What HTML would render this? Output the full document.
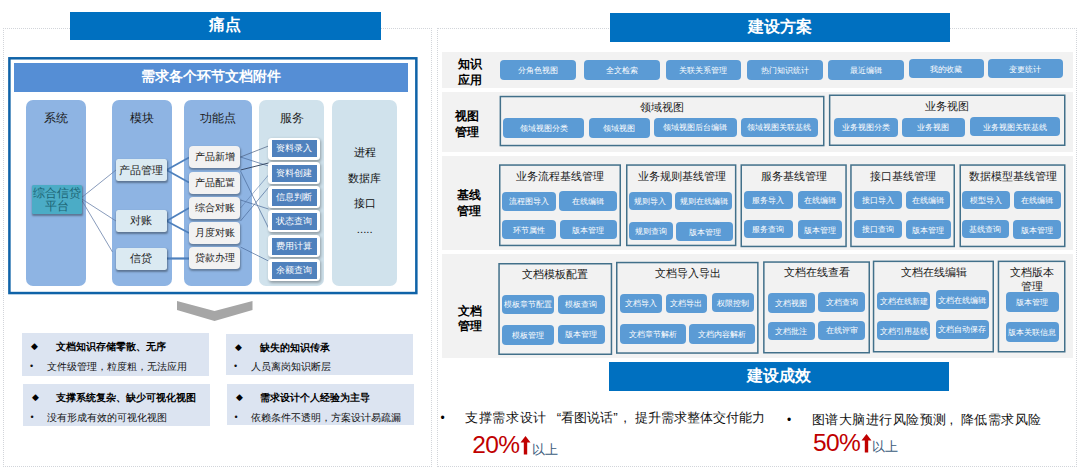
<!DOCTYPE html>
<html><head><meta charset="utf-8"><title>diagram</title><style>
html,body{margin:0;padding:0;background:#fff;overflow:hidden;}
body{width:1080px;height:470px;position:relative;overflow:hidden;font-family:"Liberation Sans",sans-serif;}
.a{position:absolute;box-sizing:border-box;}
.dot{border:1px dotted #d2d5da;}
.hdr{background:#0070c0;color:#fff;font-weight:bold;font-size:16px;display:flex;align-items:center;justify-content:center;}
.bigbox{border:3px solid #1a6cb4;background:#fff;}
.ihdr{background:#558ed5;color:#fff;font-weight:bold;font-size:13.5px;display:flex;align-items:center;justify-content:center;}
.col{border-radius:7px;text-align:center;}
.c1{background:#8eb4e3;}
.c2{background:#d0e2ec;}
.ct{position:absolute;left:0;right:0;top:10px;font-size:12.3px;line-height:16px;color:#1a1a1a;}
.sysbox{background:#4bacc6;color:#1d6575;font-size:11.6px;line-height:13.6px;text-align:center;display:flex;align-items:center;justify-content:center;box-shadow:0.5px 1.5px 2px rgba(0,0,0,.35);border-radius:1.5px;}
.mod{background:#dbeaf2;color:#222;font-size:11.3px;display:flex;align-items:center;justify-content:center;border-radius:2.5px;box-shadow:0.5px 1.5px 2px rgba(0,0,0,.35);}
.fn{background:#f2f2f2;color:#222;font-size:10.3px;display:flex;align-items:center;justify-content:center;border-radius:4px;box-shadow:0.5px 1.5px 2px rgba(0,0,0,.3);}
.svo{background:#fff;border-radius:3.5px;box-shadow:1px 1.5px 3px rgba(0,0,0,.3);}
.svi{background:#4f81bd;color:#fff;font-size:9px;display:flex;align-items:center;justify-content:center;}
.c5t{font-size:11.4px;color:#111;display:flex;align-items:center;justify-content:center;}
.pb{background:#dce4f1;}
.pt{position:absolute;left:0;top:6px;font-weight:bold;font-size:10.1px;line-height:15px;color:#000;white-space:nowrap;padding-left:33.8px;}
.dm{position:absolute;left:9px;top:0;font-size:9px;font-weight:normal;}
.ps{position:absolute;left:0;top:25.5px;font-size:10.1px;line-height:15px;color:#111;white-space:nowrap;padding-left:24.5px;}
.bl{position:absolute;left:8px;top:0;font-size:9px;}
.row{background:#f2f2f2;}
.rl{font-weight:bold;font-size:12px;line-height:15.2px;color:#000;text-align:center;display:flex;align-items:center;justify-content:center;}
.btn{background:#5b9bd5;color:#fff;font-size:7.8px;border-radius:4px;display:flex;align-items:center;justify-content:center;white-space:nowrap;padding-top:1px;}
.grp{border:1.4px solid #2c6a8e;}
.gt{font-size:11px;line-height:13.9px;color:#1a1a1a;text-align:center;display:flex;align-items:center;justify-content:center;white-space:nowrap;}
.res{font-size:13.3px;line-height:20px;color:#111;white-space:nowrap;}
.q1{display:inline-block;width:14px;text-align:right;}.q2{display:inline-block;width:7px;text-align:left;}.cm{display:inline-block;width:14.4px;text-align:left;padding-left:3px;box-sizing:border-box;}
.bul{font-size:12px;line-height:20px;color:#000;text-align:center;}
.pct{color:#c00000;font-size:24.5px;line-height:24px;white-space:nowrap;letter-spacing:-0.6px;}
.ys{color:#3b5c7c;font-size:13.2px;line-height:18px;white-space:nowrap;}
</style></head><body>
<div class="a dot" style="left:3.0px;top:28.0px;width:429.0px;height:439.0px;"></div>
<div class="a dot" style="left:437.0px;top:28.0px;width:640.0px;height:439.0px;"></div>
<div class="a hdr" style="left:69.5px;top:11.5px;width:311.0px;height:28.0px;">痛点</div>
<div class="a hdr" style="left:610.0px;top:12.5px;width:340.0px;height:29.0px;">建设方案</div>
<div class="a hdr" style="left:609.0px;top:362.3px;width:339.8px;height:28.7px;">建设成效</div>
<svg class="a" style="left:0;top:0" width="440" height="300" viewBox="0 0 440 300"><rect x="9.4" y="58.3" width="406.95" height="234.75" fill="#fff" stroke="#0f63a8" stroke-width="2.5"/></svg>
<div class="a ihdr" style="left:14.0px;top:63.0px;width:394.0px;height:28.6px;">需求各个环节文档附件</div>
<div class="a col c1" style="left:26.0px;top:100.0px;width:59.8px;height:186.0px;"><span class="ct">系统</span></div>
<div class="a col c1" style="left:111.5px;top:100.0px;width:60.5px;height:186.0px;"><span class="ct">模块</span></div>
<div class="a col c1" style="left:184.0px;top:100.0px;width:68.0px;height:186.0px;"><span class="ct">功能点</span></div>
<div class="a col c2" style="left:259.0px;top:100.0px;width:65.0px;height:186.0px;"><span class="ct">服务</span></div>
<div class="a col c2" style="left:332.2px;top:100.0px;width:65.1px;height:186.0px;"></div>
<svg class="a" style="left:0;top:0" width="440" height="300" viewBox="0 0 440 300"><line x1="81" y1="198" x2="116" y2="170" stroke="#6a82aa" stroke-width="0.8"/><line x1="81" y1="198.5" x2="116" y2="221" stroke="#6a82aa" stroke-width="0.8"/><line x1="81" y1="199" x2="112.5" y2="252" stroke="#6a82aa" stroke-width="0.8"/><line x1="166.5" y1="170" x2="189" y2="157.5" stroke="#4f81bd" stroke-width="1.8"/><line x1="166.5" y1="170" x2="189" y2="182.5" stroke="#4f81bd" stroke-width="1.8"/><line x1="166.5" y1="221" x2="189" y2="208" stroke="#4f81bd" stroke-width="1.8"/><line x1="166.5" y1="221" x2="189" y2="233" stroke="#4f81bd" stroke-width="1.8"/><line x1="166.5" y1="258.5" x2="189" y2="258.5" stroke="#4f81bd" stroke-width="2.2"/><line x1="240.5" y1="157" x2="268.5" y2="146" stroke="#4b5f80" stroke-width="0.7"/><line x1="240.5" y1="157" x2="268.5" y2="166" stroke="#4b6a99" stroke-width="0.7"/><line x1="240.5" y1="170" x2="268.5" y2="163" stroke="#2f3f5a" stroke-width="0.9"/><line x1="240.5" y1="171" x2="268.5" y2="228" stroke="#4b6a99" stroke-width="0.7"/><line x1="240.5" y1="200" x2="268.5" y2="209" stroke="#4b6a99" stroke-width="0.7"/><line x1="240.5" y1="221" x2="268.5" y2="187.5" stroke="#4b6a99" stroke-width="0.7"/><line x1="240.5" y1="208" x2="268.5" y2="175" stroke="#5b7aa9" stroke-width="0.6"/><line x1="240.5" y1="247" x2="268.5" y2="261" stroke="#4b6a99" stroke-width="0.7"/></svg>
<div class="a sysbox" style="left:31.5px;top:185.0px;width:50.5px;height:28.5px;">综合信贷<br>平台</div>
<div class="a mod" style="left:116.0px;top:159.0px;width:50.5px;height:22.0px;">产品管理</div>
<div class="a mod" style="left:116.0px;top:210.0px;width:50.5px;height:21.5px;">对账</div>
<div class="a mod" style="left:116.0px;top:248.0px;width:50.5px;height:21.7px;">信贷</div>
<div class="a fn" style="left:189.2px;top:146.0px;width:51.3px;height:22.0px;">产品新增</div>
<div class="a fn" style="left:189.2px;top:171.7px;width:51.3px;height:22.0px;">产品配置</div>
<div class="a fn" style="left:189.2px;top:197.0px;width:51.3px;height:22.0px;">综合对账</div>
<div class="a fn" style="left:189.2px;top:222.2px;width:51.3px;height:22.0px;">月度对账</div>
<div class="a fn" style="left:189.2px;top:247.4px;width:51.3px;height:22.0px;">贷款办理</div>
<div class="a svo" style="left:268.2px;top:137.7px;width:51.5px;height:22.0px;"></div>
<div class="a svi" style="left:271.5px;top:140.2px;width:45.2px;height:17.0px;">资料录入</div>
<div class="a svo" style="left:268.2px;top:162.1px;width:51.5px;height:22.0px;"></div>
<div class="a svi" style="left:271.5px;top:164.6px;width:45.2px;height:17.0px;">资料创建</div>
<div class="a svo" style="left:268.2px;top:186.3px;width:51.5px;height:22.0px;"></div>
<div class="a svi" style="left:271.5px;top:188.8px;width:45.2px;height:17.0px;">信息判断</div>
<div class="a svo" style="left:268.2px;top:210.3px;width:51.5px;height:22.0px;"></div>
<div class="a svi" style="left:271.5px;top:212.8px;width:45.2px;height:17.0px;">状态查询</div>
<div class="a svo" style="left:268.2px;top:235.4px;width:51.5px;height:22.0px;"></div>
<div class="a svi" style="left:271.5px;top:237.9px;width:45.2px;height:17.0px;">费用计算</div>
<div class="a svo" style="left:268.2px;top:259.2px;width:51.5px;height:22.0px;"></div>
<div class="a svi" style="left:271.5px;top:261.7px;width:45.2px;height:17.0px;">余额查询</div>
<div class="a c5t" style="left:332.5px;top:143.8px;width:64.5px;height:18.0px;">进程</div>
<div class="a c5t" style="left:332.5px;top:169.4px;width:64.5px;height:18.0px;">数据库</div>
<div class="a c5t" style="left:332.5px;top:194.0px;width:64.5px;height:18.0px;">接口</div>
<div class="a c5t" style="left:332.5px;top:220.0px;width:64.5px;height:18.0px;">.....</div>
<svg class="a" style="left:170px;top:296px" width="90" height="30" viewBox="170 296 90 30"><polygon points="177,301 214.5,311 252.5,301 252.5,310 214.5,321 177,310" fill="#a6a6a6"/></svg>
<div class="a pb" style="left:22.0px;top:333.0px;width:187.0px;height:42.7px;"><div class="pt"><span class="dm">◆</span>文档知识存储零散、无序</div><div class="ps"><span class="bl">•</span>文件级管理，粒度粗，无法应用</div></div>
<div class="a pb" style="left:226.0px;top:333.5px;width:187.0px;height:41.0px;"><div class="pt"><span class="dm">◆</span>缺失的知识传承</div><div class="ps"><span class="bl">•</span>人员离岗知识断层</div></div>
<div class="a pb" style="left:22.5px;top:384.0px;width:187.0px;height:42.0px;"><div class="pt"><span class="dm">◆</span>支撑系统复杂、缺少可视化视图</div><div class="ps"><span class="bl">•</span>没有形成有效的可视化视图</div></div>
<div class="a pb" style="left:226.5px;top:384.0px;width:187.0px;height:41.0px;"><div class="pt"><span class="dm">◆</span>需求设计个人经验为主导</div><div class="ps"><span class="bl">•</span>依赖条件不透明，方案设计易疏漏</div></div>
<div class="a row" style="left:442.2px;top:52.3px;width:630.6px;height:35.7px;"></div>
<div class="a rl" style="left:450.0px;top:56.7px;width:40.0px;height:32.0px;">知识<br>应用</div>
<div class="a row" style="left:442.2px;top:91.8px;width:630.6px;height:60.2px;"></div>
<div class="a rl" style="left:447.0px;top:108.7px;width:40.0px;height:32.0px;">视图<br>管理</div>
<div class="a row" style="left:442.2px;top:155.7px;width:630.6px;height:94.8px;"></div>
<div class="a rl" style="left:449.0px;top:187.5px;width:40.0px;height:32.0px;">基线<br>管理</div>
<div class="a row" style="left:442.2px;top:253.8px;width:630.6px;height:104.2px;"></div>
<div class="a rl" style="left:450.0px;top:303.2px;width:40.0px;height:32.0px;">文档<br>管理</div>
<div class="a btn" style="left:499.8px;top:60.3px;width:76.4px;height:19.3px;">分角色视图</div>
<div class="a btn" style="left:583.8px;top:60.3px;width:75.9px;height:19.3px;">全文检索</div>
<div class="a btn" style="left:665.6px;top:60.3px;width:75.6px;height:19.3px;">关联关系管理</div>
<div class="a btn" style="left:747.2px;top:60.3px;width:75.7px;height:19.3px;">热门知识统计</div>
<div class="a btn" style="left:827.9px;top:60.3px;width:75.9px;height:19.3px;">最近编辑</div>
<div class="a btn" style="left:908.7px;top:59.0px;width:75.4px;height:19.0px;">我的收藏</div>
<div class="a btn" style="left:987.6px;top:59.0px;width:75.7px;height:19.0px;">变更统计</div>
<div class="a gt" style="left:602.4px;top:99.7px;width:120.0px;height:16.0px;">领域视图</div>
<div class="a gt" style="left:887.0px;top:98.7px;width:120.0px;height:16.0px;">业务视图</div>
<div class="a btn" style="left:503.4px;top:118.4px;width:80.4px;height:19.4px;">领域视图分类</div>
<div class="a btn" style="left:589.0px;top:118.4px;width:60.8px;height:19.4px;">领域视图</div>
<div class="a btn" style="left:654.3px;top:117.7px;width:82.4px;height:19.3px;">领域视图后台编辑</div>
<div class="a btn" style="left:740.5px;top:117.7px;width:77.1px;height:19.3px;">领域视图关联基线</div>
<div class="a btn" style="left:833.9px;top:117.7px;width:64.1px;height:19.3px;">业务视图分类</div>
<div class="a btn" style="left:901.7px;top:117.7px;width:63.6px;height:19.3px;">业务视图</div>
<div class="a btn" style="left:969.5px;top:117.0px;width:90.5px;height:19.0px;">业务视图关联基线</div>
<div class="a gt" style="left:500.0px;top:169.4px;width:120.0px;height:16.0px;">业务流程基线管理</div>
<div class="a gt" style="left:621.5px;top:169.4px;width:120.0px;height:16.0px;">业务规则基线管理</div>
<div class="a gt" style="left:733.7px;top:169.4px;width:120.0px;height:16.0px;">服务基线管理</div>
<div class="a gt" style="left:842.5px;top:169.4px;width:120.0px;height:16.0px;">接口基线管理</div>
<div class="a gt" style="left:952.5px;top:169.4px;width:120.0px;height:16.0px;">数据模型基线管理</div>
<div class="a btn" style="left:502.4px;top:192.0px;width:54.0px;height:18.8px;">流程图导入</div>
<div class="a btn" style="left:559.4px;top:191.0px;width:57.3px;height:19.8px;">在线编辑</div>
<div class="a btn" style="left:502.4px;top:220.4px;width:54.0px;height:18.8px;">环节属性</div>
<div class="a btn" style="left:560.0px;top:220.4px;width:56.7px;height:18.8px;">版本管理</div>
<div class="a btn" style="left:628.5px;top:191.5px;width:43.5px;height:18.3px;">规则导入</div>
<div class="a btn" style="left:675.2px;top:191.5px;width:57.0px;height:18.3px;">规则在线编辑</div>
<div class="a btn" style="left:628.5px;top:221.6px;width:44.7px;height:18.4px;">规则查询</div>
<div class="a btn" style="left:676.0px;top:222.4px;width:57.0px;height:18.6px;">版本管理</div>
<div class="a btn" style="left:743.8px;top:190.7px;width:49.0px;height:18.8px;">服务导入</div>
<div class="a btn" style="left:797.5px;top:190.7px;width:44.8px;height:18.8px;">在线编辑</div>
<div class="a btn" style="left:743.8px;top:219.8px;width:49.0px;height:18.6px;">服务查询</div>
<div class="a btn" style="left:797.5px;top:220.4px;width:44.8px;height:18.8px;">版本管理</div>
<div class="a btn" style="left:853.5px;top:190.7px;width:48.2px;height:18.8px;">接口导入</div>
<div class="a btn" style="left:906.2px;top:190.7px;width:44.0px;height:18.8px;">在线编辑</div>
<div class="a btn" style="left:853.5px;top:219.8px;width:48.2px;height:18.6px;">接口查询</div>
<div class="a btn" style="left:906.2px;top:220.4px;width:44.5px;height:18.8px;">版本管理</div>
<div class="a btn" style="left:961.7px;top:190.7px;width:48.0px;height:18.8px;">模型导入</div>
<div class="a btn" style="left:1013.5px;top:190.7px;width:47.3px;height:18.8px;">在线编辑</div>
<div class="a btn" style="left:961.7px;top:219.8px;width:47.3px;height:18.6px;">基线查询</div>
<div class="a btn" style="left:1013.0px;top:220.4px;width:47.8px;height:18.8px;">版本管理</div>
<div class="a gt" style="left:495.0px;top:267.3px;width:120.0px;height:16.0px;">文档模板配置</div>
<div class="a gt" style="left:627.7px;top:265.7px;width:120.0px;height:16.0px;">文档导入导出</div>
<div class="a gt" style="left:756.6px;top:265.3px;width:120.0px;height:16.0px;">文档在线查看</div>
<div class="a gt" style="left:873.6px;top:265.3px;width:120.0px;height:16.0px;">文档在线编辑</div>
<div class="a gt" style="left:998.6px;top:272.2px;width:66.0px;height:16.0px;">文档版本<br>管理</div>
<div class="a btn" style="left:502.4px;top:294.5px;width:51.5px;height:19.1px;">模板章节配置</div>
<div class="a btn" style="left:557.6px;top:294.5px;width:47.4px;height:19.1px;">模板查询</div>
<div class="a btn" style="left:502.4px;top:325.4px;width:51.5px;height:19.3px;">模板管理</div>
<div class="a btn" style="left:557.6px;top:325.0px;width:47.4px;height:18.7px;">版本管理</div>
<div class="a btn" style="left:620.2px;top:294.0px;width:41.5px;height:18.8px;">文档导入</div>
<div class="a btn" style="left:665.6px;top:294.0px;width:41.7px;height:18.8px;">文档导出</div>
<div class="a btn" style="left:712.0px;top:293.2px;width:41.6px;height:18.8px;">权限控制</div>
<div class="a btn" style="left:619.7px;top:324.1px;width:66.0px;height:19.6px;">文档章节解析</div>
<div class="a btn" style="left:688.5px;top:324.0px;width:66.3px;height:19.7px;">文档内容解析</div>
<div class="a btn" style="left:767.6px;top:293.2px;width:47.4px;height:19.6px;">文档视图</div>
<div class="a btn" style="left:818.4px;top:292.2px;width:47.0px;height:19.4px;">文档查询</div>
<div class="a btn" style="left:767.6px;top:321.6px;width:47.4px;height:18.9px;">文档批注</div>
<div class="a btn" style="left:818.4px;top:320.9px;width:47.0px;height:19.1px;">在线评审</div>
<div class="a btn" style="left:877.3px;top:291.5px;width:52.8px;height:18.8px;">文档在线新建</div>
<div class="a btn" style="left:935.6px;top:290.2px;width:53.3px;height:18.8px;">文档在线编辑</div>
<div class="a btn" style="left:877.3px;top:321.1px;width:52.8px;height:18.9px;">文档引用基线</div>
<div class="a btn" style="left:935.6px;top:319.9px;width:53.3px;height:18.8px;">文档自动保存</div>
<div class="a btn" style="left:1006.0px;top:292.2px;width:52.7px;height:19.4px;">版本管理</div>
<div class="a btn" style="left:1006.0px;top:322.1px;width:52.7px;height:19.6px;">版本关联信息</div>
<svg class="a" style="left:0;top:0" width="1080" height="470" viewBox="0 0 1080 470" fill="none" stroke="#42708a" stroke-width="1.5"><rect x="500.35" y="96.55" width="323.40" height="49.00"/><rect x="829.65" y="95.25" width="235.10" height="50.00"/><rect x="499.75" y="165.05" width="120.50" height="80.40"/><rect x="626.75" y="165.05" width="108.90" height="80.40"/><rect x="741.25" y="165.05" width="104.80" height="81.40"/><rect x="850.95" y="165.05" width="103.30" height="81.40"/><rect x="960.25" y="165.05" width="104.50" height="81.40"/><rect x="499.05" y="263.75" width="112.40" height="90.50"/><rect x="616.75" y="262.55" width="141.10" height="90.50"/><rect x="763.85" y="262.05" width="105.40" height="90.70"/><rect x="873.55" y="261.35" width="119.70" height="90.40"/><rect x="998.45" y="261.35" width="66.30" height="90.40"/></svg>
<div class="a bul" style="left:432.0px;top:408.0px;width:21.0px;height:20.0px;">•</div>
<div class="a res" style="left:465.0px;top:408.0px;width:315.0px;height:20.0px;"><span style="letter-spacing:0.7px">支撑需求设计</span><span class="q1">“</span>看图说话<span class="q2">”</span><span class="cm">,</span>提升需求整体交付能力</div>
<div class="a bul" style="left:782.0px;top:409.5px;width:14.0px;height:20.0px;">•</div>
<div class="a res" style="left:811.5px;top:409.5px;width:258.5px;height:20.0px;"><span style="letter-spacing:0.5px">图谱大脑进行风险预测<span class="cm">,</span>降低需求风险</span></div>
<div class="a pct" style="left:472.2px;top:432.5px;width:60.0px;height:24.0px;">20%</div>
<svg class="a" style="left:520px;top:436.0px" width="11" height="19" viewBox="0 0 11 19"><path d="M5.5 0 L10.5 6.5 L7.2 6.5 L7.2 18.5 L3.8 18.5 L3.8 6.5 L0.5 6.5 Z" fill="#c00000"/></svg>
<div class="a ys" style="left:531.5px;top:441.0px;width:33.5px;height:18.0px;">以上</div>
<div class="a pct" style="left:813.0px;top:430.5px;width:60.0px;height:24.0px;">50%</div>
<svg class="a" style="left:860.5px;top:434.0px" width="11" height="19" viewBox="0 0 11 19"><path d="M5.5 0 L10.5 6.5 L7.2 6.5 L7.2 18.5 L3.8 18.5 L3.8 6.5 L0.5 6.5 Z" fill="#c00000"/></svg>
<div class="a ys" style="left:872.0px;top:438.0px;width:33.5px;height:18.0px;">以上</div>
</body></html>
